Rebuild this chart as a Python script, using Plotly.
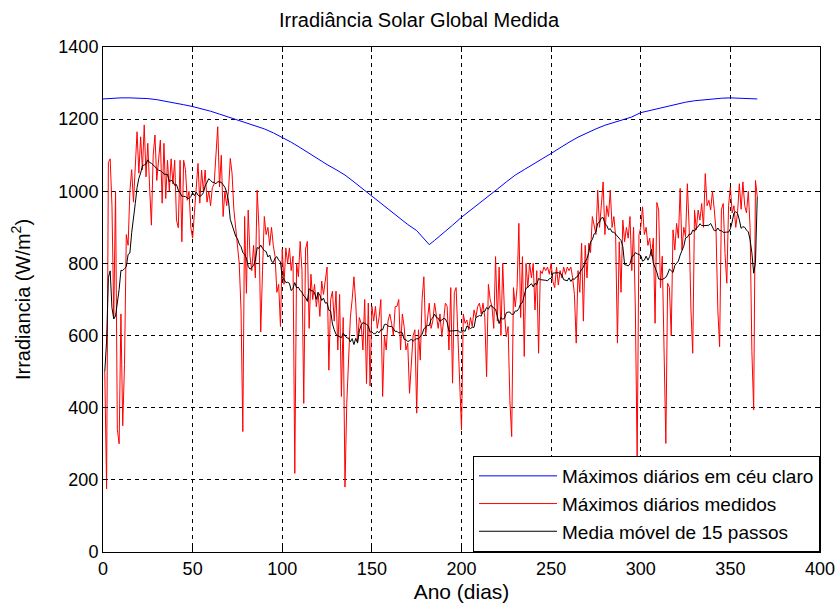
import numpy as np
import plotly.graph_objects as go

# Clear-sky daily maximum irradiance (W/m2), sampled by day of year
clear_sky_days = [0, 5, 10, 15, 20, 25, 30, 35, 40, 45, 50, 55, 60, 65, 70, 75, 80, 85, 90, 95,
                  100, 105, 110, 115, 120, 125, 130, 135, 140, 145, 150, 155, 160, 165, 170, 175,
                  180, 182, 185, 190, 195, 200, 205, 210, 215, 220, 225, 230, 235, 240, 245, 250,
                  255, 260, 265, 270, 275, 280, 285, 290, 295, 300, 305, 310, 315, 320, 325, 330,
                  335, 340, 345, 350, 355, 360, 365]
clear_sky_max = [1256, 1258, 1259, 1259, 1259, 1257, 1254, 1250, 1245, 1240, 1235, 1229, 1222, 1214,
                 1206, 1198, 1191, 1183, 1173, 1162, 1150, 1136, 1121, 1105, 1090, 1074, 1060, 1045,
                 1026, 1006, 986, 966, 947, 928, 908, 891, 865, 852, 864, 884, 906, 928, 947, 966,
                 986, 1006, 1026, 1045, 1060, 1074, 1090, 1105, 1121, 1136, 1150, 1162, 1173, 1183,
                 1191, 1198, 1206, 1218, 1224, 1231, 1237, 1242, 1247, 1251, 1254, 1256, 1258, 1259,
                 1258, 1257, 1256]

# Measured daily maximum irradiance (W/m2), days 1..365
measured_max = [
    500, 175, 1080, 1090, 960, 650, 1000, 340, 300, 660,
    350, 520, 880, 850, 1000, 1060, 970, 1077, 1165, 1050,
    1151, 1060, 1184, 1040, 1133, 1012, 906, 1100, 1156, 1030,
    1100, 1142, 967, 1133, 980, 1086, 1000, 1090, 1020, 1086,
    920, 899, 1086, 860, 1086, 1060, 975, 1000, 899, 870,
    940, 1000, 1077, 967, 1059, 1000, 1059, 970, 1000, 960,
    1010, 1020, 1110, 1179, 1012, 1100, 930, 1000, 960, 1000,
    1091, 1050, 950, 900, 856, 800, 671, 334, 930, 717,
    948, 820, 780, 850, 760, 1003, 900, 610, 780, 930,
    880, 900, 850, 900, 850, 819, 720, 742, 625, 840,
    742, 843, 800, 843, 780, 820, 218, 800, 763, 861,
    780, 412, 840, 861, 620, 770, 700, 742, 680, 720,
    653, 751, 714, 750, 790, 504, 700, 723, 640, 723,
    560, 714, 431, 650, 180, 412, 560, 651, 700, 763,
    690, 579, 650, 634, 560, 700, 467, 690, 460, 681,
    640, 681, 620, 650, 700, 431, 600, 560, 640, 660,
    634, 600, 680, 681, 700, 560, 660, 625, 560, 579,
    440, 523, 600, 616, 385, 616, 532, 700, 763, 600,
    640, 690, 620, 640, 690, 660, 620, 660, 597, 640,
    690, 681, 560, 733, 468, 720, 733, 600, 486, 338,
    660, 634, 643, 616, 650, 625, 671, 650, 680, 690,
    660, 690, 650, 486, 742, 700, 680, 620, 819, 640,
    790, 600, 800, 660, 597, 625, 419, 320, 733, 680,
    733, 911, 650, 819, 542, 800, 733, 800, 760, 800,
    671, 780, 551, 780, 772, 790, 780, 790, 770, 800,
    750, 733, 790, 740, 780, 760, 790, 770, 790, 780,
    790, 760, 714, 579, 780, 720, 856, 640, 850, 760,
    856, 830, 930, 902, 880, 1003, 900, 960, 1026, 880,
    960, 930, 1003, 900, 930, 874, 579, 860, 720, 920,
    860, 900, 870, 930, 780, 900, 671, 255, 879, 900,
    957, 880, 900, 850, 870, 820, 870, 634, 969, 948,
    733, 820, 560, 301, 745, 733, 600, 893, 837, 911,
    870, 1008, 837, 900, 874, 1021, 900, 671, 551, 948,
    893, 948, 920, 966, 900, 1049, 960, 975, 948, 1000,
    950, 890, 671, 569, 950, 966, 828, 745, 960, 1012,
    940, 960, 900, 940, 1021, 950, 1026, 960, 940, 1000,
    900, 556, 394, 1030, 985,
]
days = list(range(1, len(measured_max) + 1))

x_ticks = [0, 50, 100, 150, 200, 250, 300, 350, 400]
y_ticks = [0, 200, 400, 600, 800, 1000, 1200, 1400]

SPAN = 15


def moving_average(values, span):
    """Centred moving average whose window shrinks near both ends."""
    arr = np.asarray(values, dtype=float)
    n = len(arr)
    half = span // 2
    out = np.empty(n)
    for i in range(n):
        k = min(i, n - 1 - i, half)
        out[i] = arr[i - k:i + k + 1].mean()
    return out


smoothed = moving_average(measured_max, SPAN)

FONT = "Liberation Sans, Arial, sans-serif"

fig = go.Figure()
fig.add_trace(go.Scatter(x=clear_sky_days, y=clear_sky_max, mode="lines",
                         name="Máximos diários em céu claro",
                         line=dict(color="#0000FF", width=1)))
fig.add_trace(go.Scatter(x=days, y=measured_max, mode="lines",
                         name="Máximos diários medidos",
                         line=dict(color="#FF0000", width=1)))
fig.add_trace(go.Scatter(x=days, y=smoothed, mode="lines",
                         name="Media móvel de 15 passos",
                         line=dict(color="#000000", width=1)))

axis_common = dict(
    showline=True, linecolor="black", linewidth=1, mirror="ticks",
    ticks="inside", ticklen=5, tickcolor="black",
    showgrid=True, gridcolor="black", gridwidth=1, griddash="4px,4px",
    zeroline=False, automargin=False,
    tickfont=dict(family=FONT, size=18, color="black"),
)

fig.update_xaxes(range=[0, 400], tickvals=x_ticks, **axis_common,
                 title=dict(text="Ano (dias)", font=dict(family=FONT, size=21, color="black"),
                            standoff=6))
fig.update_yaxes(range=[0, 1400], tickvals=y_ticks, **axis_common,
                 title=dict(text="Irradiancia (W/m<sup>2</sup>)",
                            font=dict(family=FONT, size=20, color="black"), standoff=22))

fig.update_layout(
    width=838, height=605,
    margin=dict(l=103, r=18, t=47, b=53),
    paper_bgcolor="white", plot_bgcolor="white",
    title=dict(text="Irradiância Solar Global Medida", x=0.5, xanchor="center",
               y=0.967, yanchor="middle",
               font=dict(family=FONT, size=20, color="black")),
    legend=dict(x=1, y=0, xanchor="right", yanchor="bottom",
                bgcolor="white", bordercolor="black", borderwidth=1,
                font=dict(family=FONT, size=19, color="black"),
                tracegroupgap=0, itemwidth=78),
    showlegend=True,
)

fig.write_html("out.html")
